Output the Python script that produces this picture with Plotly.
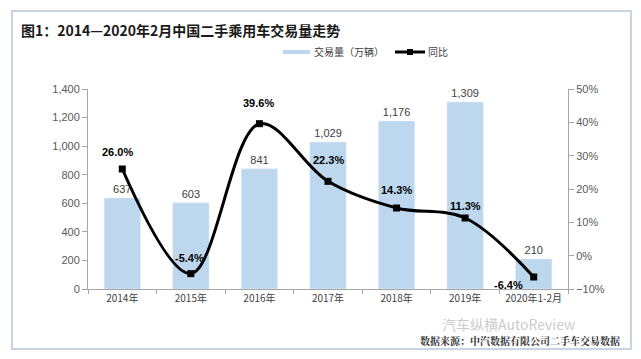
import plotly.graph_objects as go

categories = ["2014年", "2015年", "2016年", "2017年", "2018年", "2019年", "2020年1-2月"]
volume = [637, 603, 841, 1029, 1176, 1309, 210]
yoy = [26.0, -5.4, 39.6, 22.3, 14.3, 11.3, -6.4]
volume_labels = ["637", "603", "841", "1,029", "1,176", "1,309", "210"]
yoy_labels = ["26.0%", "-5.4%", "39.6%", "22.3%", "14.3%", "11.3%", "-6.4%"]

FONT = "Noto Sans CJK SC, Liberation Sans, Arial, sans-serif"
NUMFONT = "Liberation Sans, Arial, sans-serif"
BAR_COLOR = "#BDD7EE"

# the page body adds an 8px offset; positions below are in window pixels
OFF = 8
W, H = 641 - OFF, 359 - OFF
L, R, T, B = 88 - OFF, 568 - OFF, 89 - OFF, 289 - OFF
def px(x):
    return (x - OFF - L) / (R - L)
def py(y):
    return (B - (y - OFF)) / (B - T)

fig = go.Figure()
fig.add_trace(go.Bar(
    x=categories, y=volume, name="交易量（万辆）", marker_color=BAR_COLOR,
    width=0.53, text=volume_labels, textposition="outside",
    textfont=dict(size=11, color="#404040", family=NUMFONT),
    cliponaxis=False, showlegend=False,
))
fig.add_trace(go.Scatter(
    x=categories, y=yoy, yaxis="y2", mode="lines+markers", name="同比",
    line=dict(color="black", width=3, shape="spline", smoothing=1.0),
    marker=dict(symbol="square", size=7, color="black"), showlegend=False,
    cliponaxis=False,
))

# line labels
offsets = [(-5, 17), (-1, 16), (-1, 21), (0, 21), (0, 18), (0, 12), (-25, -8)]
for c, v, t, (dx, dy) in zip(categories, yoy, yoy_labels, offsets):
    fig.add_annotation(x=c, y=v, yref="y2", text=f"<b>{t}</b>", showarrow=False,
                       xshift=dx, yshift=dy,
                       font=dict(size=11, color="black", family=NUMFONT))

shapes = [
    # frame
    dict(type="rect", xref="paper", yref="paper", x0=px(12), x1=px(631),
         y0=py(349), y1=py(11), line=dict(color="#B4C7DC", width=1.5)),
    # legend swatches
    dict(type="line", xref="paper", yref="paper", x0=px(283), x1=px(310),
         y0=py(52), y1=py(52), line=dict(color=BAR_COLOR, width=4)),
    dict(type="line", xref="paper", yref="paper", x0=px(395), x1=px(425),
         y0=py(52), y1=py(52), line=dict(color="black", width=3)),
    dict(type="rect", xref="paper", yref="paper", x0=px(407), x1=px(413),
         y0=py(55), y1=py(49), line=dict(width=0), fillcolor="black"),
]

fig.update_layout(
    width=W, height=H,
    margin=dict(l=L, r=W - R, t=T, b=H - B, autoexpand=False),
    paper_bgcolor="white", plot_bgcolor="white",
    font=dict(family=FONT, color="#404040"),
    showlegend=False,
    xaxis=dict(showline=True, linecolor="#A6A6A6", linewidth=1, ticks="outside",
               tickson="boundaries", ticklen=4, tickcolor="#A6A6A6",
               tickfont=dict(size=10, color="#404040")),
    yaxis=dict(range=[0, 1400], dtick=200, tickformat=",", showgrid=False,
               showline=True, linecolor="#A6A6A6", ticks="outside", ticklen=5,
               tickcolor="#A6A6A6", zeroline=False,
               tickfont=dict(size=11, color="#595959", family=NUMFONT)),
    yaxis2=dict(range=[-10, 50], dtick=10, ticksuffix="%", overlaying="y", side="right",
                showgrid=False, showline=True, linecolor="#A6A6A6", ticks="outside",
                ticklen=5, tickcolor="#A6A6A6", zeroline=False,
                tickfont=dict(size=11, color="#595959", family=NUMFONT)),
    shapes=shapes,
)
# legend texts
fig.add_annotation(xref="paper", yref="paper", x=px(312), y=py(52), xanchor="left", yanchor="middle",
                   text="交易量（万辆）", showarrow=False, font=dict(size=10, color="#404040"))
fig.add_annotation(xref="paper", yref="paper", x=px(426), y=py(52), xanchor="left", yanchor="middle",
                   text="同比", showarrow=False, font=dict(size=10, color="#404040"))
# title and source
fig.add_annotation(xref="paper", yref="paper", x=px(19), y=py(30), xanchor="left", yanchor="middle",
                   text="<b>图1：2014—2020年2月中国二手乘用车交易量走势</b>", showarrow=False,
                   font=dict(size=14, color="#1a1a1a", family=FONT))
fig.add_annotation(xref="paper", yref="paper", x=px(440), y=py(324), xanchor="left", yanchor="middle",
                   text="汽车纵横AutoReview", showarrow=False,
                   font=dict(size=14, color="rgba(150,150,150,0.5)", family=FONT))
fig.add_annotation(xref="paper", yref="paper", x=px(622), y=py(340), xanchor="right", yanchor="middle",
                   text="<b>数据来源：中汽数据有限公司二手车交易数据</b>", showarrow=False,
                   font=dict(size=10, color="#333333", family="Noto Serif CJK SC, Noto Sans CJK SC"))

fig.write_html("out.html")
